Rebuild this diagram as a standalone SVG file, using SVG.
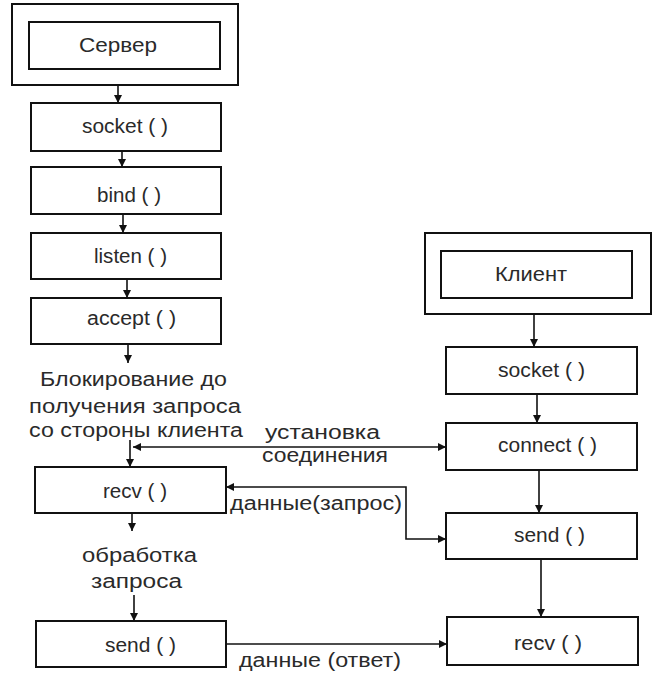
<svg xmlns="http://www.w3.org/2000/svg" width="656" height="680" viewBox="0 0 656 680">
<defs>
<marker id="ah" viewBox="0 0 10 10" refX="10" refY="5" markerWidth="9" markerHeight="8" markerUnits="userSpaceOnUse" orient="auto-start-reverse">
<path d="M0,0 L10,5 L0,10 Z" fill="#111"/>
</marker>
<style>
.box{fill:#fff;stroke:#111;stroke-width:2}
.t{font-family:"Liberation Sans",Arial,sans-serif;font-size:20px;fill:#2a2a2a}
.h{font-size:21px}
.c{stroke:#111;stroke-width:1.6;fill:none}
</style>
</defs>
<rect width="656" height="680" fill="#fff"/>
<g id="server">
<rect class="box" x="12" y="4" width="226" height="81"/>
<rect class="box" x="29" y="22" width="191" height="47"/>
<text class="t h" x="79" y="52" textLength="78" lengthAdjust="spacingAndGlyphs">Сервер</text>
</g>
<g id="s-socket">
<rect class="box" x="31" y="103" width="190" height="48"/>
<text class="t" x="82" y="133" textLength="86" lengthAdjust="spacingAndGlyphs">socket ( )</text>
</g>
<g id="s-bind">
<rect class="box" x="31" y="167" width="190" height="47"/>
<text class="t" x="97" y="202" textLength="64" lengthAdjust="spacingAndGlyphs">bind ( )</text>
</g>
<g id="s-listen">
<rect class="box" x="31" y="233" width="190" height="46"/>
<text class="t" x="94" y="263" textLength="73" lengthAdjust="spacingAndGlyphs">listen ( )</text>
</g>
<g id="s-accept">
<rect class="box" x="31" y="298" width="190" height="46"/>
<text class="t" x="87" y="325" textLength="89" lengthAdjust="spacingAndGlyphs">accept ( )</text>
</g>
<g id="s-block">
<text class="t" x="40" y="386" textLength="187" lengthAdjust="spacingAndGlyphs">Блокирование до</text>
<text class="t" x="29" y="413" textLength="212" lengthAdjust="spacingAndGlyphs">получения запроса</text>
<text class="t" x="29" y="437" textLength="214" lengthAdjust="spacingAndGlyphs">со стороны клиента</text>
</g>
<g id="s-recv">
<rect class="box" x="35" y="467" width="191" height="46"/>
<text class="t" x="103" y="498" textLength="64" lengthAdjust="spacingAndGlyphs">recv ( )</text>
</g>
<g id="s-process">
<text class="t" x="82" y="562" textLength="115" lengthAdjust="spacingAndGlyphs">обработка</text>
<text class="t" x="91" y="588" textLength="91" lengthAdjust="spacingAndGlyphs">запроса</text>
</g>
<g id="s-send">
<rect class="box" x="36" y="621" width="190" height="46"/>
<text class="t" x="105" y="652" textLength="71" lengthAdjust="spacingAndGlyphs">send ( )</text>
</g>
<g id="client">
<rect class="box" x="425" y="233" width="226" height="81"/>
<rect class="box" x="441" y="251" width="191" height="47"/>
<text class="t h" x="495" y="281" textLength="72" lengthAdjust="spacingAndGlyphs">Клиент</text>
</g>
<g id="c-socket">
<rect class="box" x="446" y="347" width="191" height="47"/>
<text class="t" x="498" y="377" textLength="87" lengthAdjust="spacingAndGlyphs">socket ( )</text>
</g>
<g id="c-connect">
<rect class="box" x="446" y="423" width="191" height="47"/>
<text class="t" x="498" y="452" textLength="99" lengthAdjust="spacingAndGlyphs">connect ( )</text>
</g>
<g id="c-send">
<rect class="box" x="446" y="513" width="191" height="46"/>
<text class="t" x="514" y="542" textLength="71" lengthAdjust="spacingAndGlyphs">send ( )</text>
</g>
<g id="c-recv">
<rect class="box" x="447" y="617" width="191" height="48"/>
<text class="t" x="514" y="650" textLength="68" lengthAdjust="spacingAndGlyphs">recv ( )</text>
</g>
<g id="connectors">
<line class="c" x1="118" y1="85" x2="118" y2="103" marker-end="url(#ah)"/>
<line class="c" x1="122" y1="151" x2="122" y2="167" marker-end="url(#ah)"/>
<line class="c" x1="123" y1="214" x2="123" y2="233" marker-end="url(#ah)"/>
<line class="c" x1="127" y1="279" x2="127" y2="298" marker-end="url(#ah)"/>
<line class="c" x1="128" y1="344" x2="128" y2="363" marker-end="url(#ah)"/>
<line class="c" x1="130" y1="440" x2="130" y2="467" marker-end="url(#ah)"/>
<line class="c" x1="133" y1="447" x2="446" y2="447" marker-start="url(#ah)" marker-end="url(#ah)"/>
<path class="c" d="M226,487 H406 V539 H446" marker-start="url(#ah)" marker-end="url(#ah)"/>
<line class="c" x1="132" y1="513" x2="132" y2="531" marker-end="url(#ah)"/>
<line class="c" x1="134" y1="595" x2="134" y2="621" marker-end="url(#ah)"/>
<line class="c" x1="226" y1="644" x2="447" y2="644" marker-end="url(#ah)"/>
<line class="c" x1="534" y1="314" x2="534" y2="347" marker-end="url(#ah)"/>
<line class="c" x1="537" y1="394" x2="537" y2="423" marker-end="url(#ah)"/>
<line class="c" x1="539" y1="470" x2="539" y2="513" marker-end="url(#ah)"/>
<line class="c" x1="541" y1="559" x2="541" y2="617" marker-end="url(#ah)"/>
</g>
<g id="labels">
<text class="t" x="265" y="439" textLength="115" lengthAdjust="spacingAndGlyphs">установка</text>
<text class="t" x="262" y="462" textLength="126" lengthAdjust="spacingAndGlyphs">соединения</text>
<text class="t" x="230" y="510" textLength="172" lengthAdjust="spacingAndGlyphs">данные(запрос)</text>
<text class="t" x="239" y="667" textLength="162" lengthAdjust="spacingAndGlyphs">данные (ответ)</text>
</g>
</svg>
